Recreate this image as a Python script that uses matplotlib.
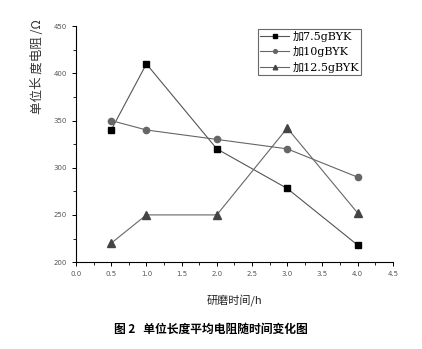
import matplotlib
matplotlib.use("Agg")
import matplotlib.pyplot as plt
from matplotlib.ticker import MultipleLocator

plt.rcParams['font.family'] = ['DejaVu Sans', 'Noto Sans CJK SC']

# data
hours = [0.5, 1.0, 2.0, 3.0, 4.0]
r_75 = [340, 410, 320, 278, 218]
r_10 = [350, 340, 330, 320, 290]
r_125 = [220, 250, 250, 342, 252]
labels = ['加7.5gBYK', '加10gBYK', '加12.5gBYK']

fig = plt.figure(figsize=(4.22, 3.49), dpi=100)
ax = fig.add_axes([0.180, 0.249, 0.751, 0.676])

ax.plot(hours, r_75, '-s', color='#555555', lw=0.8, ms=5,
        mfc='black', mec='black', label=labels[0])
ax.plot(hours, r_10, '-o', color='#666666', lw=0.8, ms=4.5,
        mfc='#666666', mec='#666666', label=labels[1])
ax.plot(hours, r_125, '-^', color='#666666', lw=0.8, ms=5.5,
        mfc='#444444', mec='#444444', label=labels[2])

ax.set_xlim(0, 4.5)
ax.set_ylim(200, 450)
ax.xaxis.set_major_locator(MultipleLocator(0.5))
ax.xaxis.set_minor_locator(MultipleLocator(0.25))
ax.yaxis.set_major_locator(MultipleLocator(50))
ax.yaxis.set_minor_locator(MultipleLocator(25))
ax.spines['top'].set_visible(False)
ax.spines['right'].set_visible(False)
for s in ('left', 'bottom'):
    ax.spines[s].set_linewidth(0.8)
ax.tick_params(which='major', direction='out', length=3, width=0.7,
               labelsize=5, labelcolor='#555555')
ax.tick_params(which='minor', direction='out', length=2, width=0.6)

leg = ax.legend(loc='upper left', bbox_to_anchor=(0.575, 0.99), fontsize=8,
                frameon=True, fancybox=False, edgecolor='#444444',
                borderpad=0.2, labelspacing=0.4, handlelength=2.6,
                handletextpad=0.3, borderaxespad=0, markerscale=0.6)
leg.get_frame().set_linewidth(0.8)
for t in leg.get_texts():
    t.set_family(['DejaVu Serif', 'Noto Sans CJK SC'])

fig.text(0.09, 0.81, '单位长 度电阻 /Ω', rotation=90, fontsize=9,
         ha='center', va='center', color='#333333',
         family=['Noto Sans CJK SC', 'DejaVu Sans'])
fig.text(0.555, 0.14, '研磨时间/h', fontsize=8, ha='center', va='center',
         color='#222222', family=['Noto Sans CJK SC', 'DejaVu Sans'])
fig.text(0.50, 0.055, '图 2   单位长度平均电阻随时间变化图', fontsize=8.5,
         ha='center', va='center', color='black', weight='bold',
         family=['Noto Sans CJK SC', 'DejaVu Sans'])

fig.savefig('out.png', dpi=100)
